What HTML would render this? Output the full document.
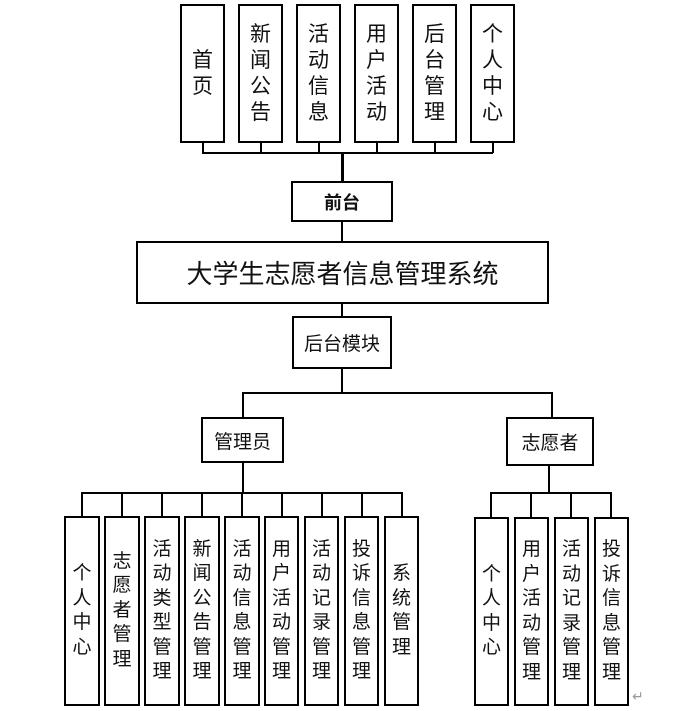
<!DOCTYPE html>
<html><head><meta charset="utf-8"><style>
body{margin:0;background:#fff;}
#c{position:relative;width:680px;height:711px;overflow:hidden;font-family:"Liberation Sans","Noto Sans CJK SC",sans-serif;color:#111;}
.b{position:absolute;border:2px solid #000;box-sizing:border-box;display:flex;align-items:center;justify-content:center;text-align:center;background:#fff;}
.v{font-size:21px;line-height:26px;}
.s{font-size:19px;line-height:24.5px;}
.l{position:absolute;background:#000;}
</style></head><body><div id="c">
<!-- top bus -->
<div class="l" style="left:202px;top:152px;width:291px;height:2px"></div>
<div class="l" style="left:202px;top:141px;width:2px;height:12px"></div>
<div class="l" style="left:260px;top:141px;width:2px;height:12px"></div>
<div class="l" style="left:318px;top:141px;width:2px;height:12px"></div>
<div class="l" style="left:376px;top:141px;width:2px;height:12px"></div>
<div class="l" style="left:434px;top:141px;width:2px;height:12px"></div>
<div class="l" style="left:492px;top:141px;width:2px;height:12px"></div>
<div class="l" style="left:341px;top:152px;width:3px;height:30px"></div>
<div class="l" style="left:341px;top:220px;width:2px;height:22px"></div>
<div class="l" style="left:341px;top:302px;width:2px;height:15px"></div>
<div class="l" style="left:341px;top:367px;width:2px;height:27px"></div>
<div class="l" style="left:242px;top:392px;width:311px;height:2px"></div>
<div class="l" style="left:242px;top:392px;width:2px;height:26px"></div>
<div class="l" style="left:551px;top:392px;width:2px;height:26px"></div>
<div class="l" style="left:242px;top:461px;width:2px;height:32px"></div>
<div class="l" style="left:548px;top:464px;width:2px;height:29px"></div>
<div class="l" style="left:81px;top:492px;width:322px;height:2px"></div>
<div class="l" style="left:490px;top:492px;width:122px;height:2px"></div>
<div class="l" style="left:81px;top:492px;width:2px;height:25px"></div>
<div class="l" style="left:121px;top:492px;width:2px;height:25px"></div>
<div class="l" style="left:161px;top:492px;width:2px;height:25px"></div>
<div class="l" style="left:201px;top:492px;width:2px;height:25px"></div>
<div class="l" style="left:241px;top:492px;width:2px;height:25px"></div>
<div class="l" style="left:281px;top:492px;width:2px;height:25px"></div>
<div class="l" style="left:321px;top:492px;width:2px;height:25px"></div>
<div class="l" style="left:361px;top:492px;width:2px;height:25px"></div>
<div class="l" style="left:401px;top:492px;width:2px;height:25px"></div>
<div class="l" style="left:490px;top:492px;width:2px;height:25px"></div>
<div class="l" style="left:530px;top:492px;width:2px;height:25px"></div>
<div class="l" style="left:570px;top:492px;width:2px;height:25px"></div>
<div class="l" style="left:610px;top:492px;width:2px;height:25px"></div>

<div class="b v" style="left:180px;top:4px;width:45px;height:139px">首<br>页</div>
<div class="b v" style="left:238px;top:4px;width:45px;height:139px">新<br>闻<br>公<br>告</div>
<div class="b v" style="left:296px;top:4px;width:45px;height:139px">活<br>动<br>信<br>息</div>
<div class="b v" style="left:354px;top:4px;width:45px;height:139px">用<br>户<br>活<br>动</div>
<div class="b v" style="left:412px;top:4px;width:45px;height:139px">后<br>台<br>管<br>理</div>
<div class="b v" style="left:470px;top:4px;width:45px;height:139px">个<br>人<br>中<br>心</div>

<div class="b" style="left:291px;top:181px;width:102px;height:41px;font-size:18px;font-weight:bold">前台</div>
<div class="b" style="left:136px;top:241px;width:413px;height:63px;font-size:26px">大学生志愿者信息管理系统</div>
<div class="b" style="left:292px;top:316px;width:100px;height:53px;font-size:19px">后台模块</div>
<div class="b" style="left:201px;top:417px;width:83px;height:46px;font-size:19px">管理员</div>
<div class="b" style="left:506px;top:417px;width:88px;height:49px;font-size:19px">志愿者</div>

<div class="b s" style="left:64px;top:516px;width:36px;height:190px">个<br>人<br>中<br>心</div>
<div class="b s" style="left:104px;top:516px;width:36px;height:190px">志<br>愿<br>者<br>管<br>理</div>
<div class="b s" style="left:144px;top:516px;width:36px;height:190px">活<br>动<br>类<br>型<br>管<br>理</div>
<div class="b s" style="left:184px;top:516px;width:36px;height:190px">新<br>闻<br>公<br>告<br>管<br>理</div>
<div class="b s" style="left:224px;top:516px;width:36px;height:190px">活<br>动<br>信<br>息<br>管<br>理</div>
<div class="b s" style="left:264px;top:516px;width:35px;height:190px">用<br>户<br>活<br>动<br>管<br>理</div>
<div class="b s" style="left:304px;top:516px;width:35px;height:190px">活<br>动<br>记<br>录<br>管<br>理</div>
<div class="b s" style="left:344px;top:516px;width:35px;height:190px">投<br>诉<br>信<br>息<br>管<br>理</div>
<div class="b s" style="left:384px;top:516px;width:35px;height:190px">系<br>统<br>管<br>理</div>

<div class="b s" style="left:474px;top:517px;width:35px;height:189px">个<br>人<br>中<br>心</div>
<div class="b s" style="left:514px;top:517px;width:35px;height:189px">用<br>户<br>活<br>动<br>管<br>理</div>
<div class="b s" style="left:554px;top:517px;width:35px;height:189px">活<br>动<br>记<br>录<br>管<br>理</div>
<div class="b s" style="left:594px;top:517px;width:35px;height:189px">投<br>诉<br>信<br>息<br>管<br>理</div>
<div style="position:absolute;left:632px;top:688px;font-size:14px;color:#999">↵</div>
</div></body></html>
